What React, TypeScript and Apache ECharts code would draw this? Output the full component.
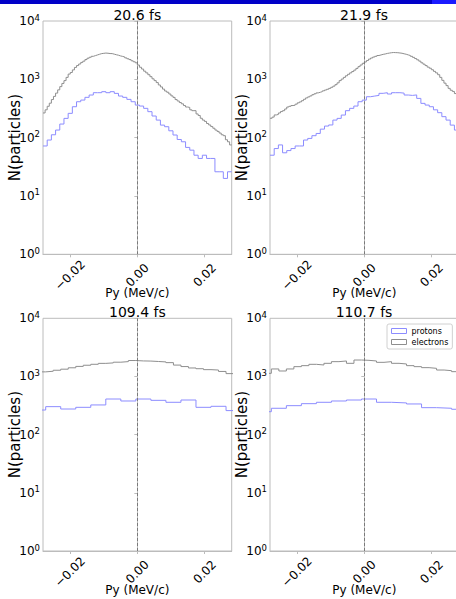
import React, { useEffect, useRef } from 'react';
import * as echarts from 'echarts';

// ---------- data ----------
const TITLES = ['20.6 fs', '21.9 fs', '109.4 fs', '110.7 fs'];
const X_TICKS = [-0.02, 0, 0.02];
const X_MIN = -0.028;
const X_MAX = 0.028;
const Y_MIN = 1;
const Y_MAX = 10000;
const X_NAME = 'Py (MeV/c)';
const Y_NAME = 'N(particles)';
const SERIES_NAMES = ['protons', 'electrons'];

// bin starts / widths (Py, MeV/c)
const P_START = [-0.028, -0.028, -0.03166, -0.03206];
const P_WIDTH = [0.056 / 45, 0.056 / 45, 0.00446, 0.00446];
const E_START = [-0.028, -0.028, -0.02943, -0.02983];
const E_WIDTH = [0.056 / 90, 0.056 / 90, 0.00223, 0.00223];

const PROTONS_1 = [72, 91, 112, 135, 171, 214, 261, 339, 413, 441, 491, 538, 590, 590, 614, 590, 614, 574, 517, 491, 453, 413, 362, 348, 318, 279, 235, 200, 164, 154, 131, 111, 93, 85, 68, 61, 50, 44, 50, 44, 44, 26, 26, 20, 26];
const ELECTRONS_1 = [265, 300, 345, 390, 450, 510, 580, 660, 750, 850, 950, 1080, 1230, 1310, 1450, 1600, 1720, 1830, 1950, 2050, 2180, 2300, 2390, 2480, 2550, 2620, 2690, 2760, 2790, 2820, 2800, 2770, 2760, 2700, 2640, 2590, 2520, 2470, 2420, 2330, 2250, 2180, 2080, 2000, 1920, 1760, 1610, 1500, 1380, 1290, 1200, 1110, 1020, 950, 880, 800, 740, 680, 630, 600, 560, 520, 490, 450, 425, 400, 380, 355, 335, 330, 300, 290, 290, 255, 240, 215, 200, 190, 175, 165, 155, 145, 135, 128, 120, 112, 108, 92, 85, 75];
const PROTONS_2 = [50, 65, 75, 55, 60, 65, 72, 72, 91, 97, 108, 118, 140, 158, 165, 200, 214, 244, 290, 318, 348, 413, 440, 503, 517, 530, 575, 590, 560, 590, 590, 580, 538, 530, 540, 471, 387, 362, 339, 300, 268, 229, 200, 164, 135];
const ELECTRONS_2 = [215, 225, 245, 250, 265, 280, 290, 310, 335, 345, 355, 360, 375, 395, 410, 430, 455, 480, 500, 520, 545, 565, 585, 600, 615, 635, 655, 675, 700, 730, 765, 810, 870, 950, 1010, 1080, 1150, 1220, 1290, 1360, 1440, 1540, 1650, 1760, 1880, 1980, 2100, 2220, 2320, 2410, 2480, 2560, 2620, 2680, 2720, 2780, 2820, 2860, 2880, 2870, 2860, 2830, 2800, 2740, 2690, 2620, 2560, 2480, 2380, 2270, 2160, 2050, 1920, 1820, 1720, 1620, 1550, 1460, 1370, 1290, 1200, 1080, 960, 860, 780, 700, 650, 620, 570, 540];
const PROTONS_3 = [265, 303, 276, 295, 324, 410, 379, 410, 389, 360, 394, 295, 307, 259];
const ELECTRONS_3 = [1200, 1230, 1280, 1335, 1410, 1490, 1560, 1620, 1680, 1710, 1760, 1800, 1880, 1850, 1840, 1810, 1780, 1730, 1570, 1480, 1400, 1360, 1310, 1290, 1220, 1120, 1080];
const PROTONS_4 = [248, 284, 315, 341, 360, 379, 394, 410, 360, 351, 337, 291, 284, 273];
const ELECTRONS_4 = [1133, 1346, 1242, 1346, 1475, 1535, 1618, 1575, 1683, 1798, 1847, 1683, 1918, 1894, 1847, 1750, 1798, 1683, 1640, 1535, 1475, 1418, 1380, 1291, 1258, 1210, 1180];

const PROTONS = [PROTONS_1, PROTONS_2, PROTONS_3, PROTONS_4];
const ELECTRONS = [ELECTRONS_1, ELECTRONS_2, ELECTRONS_3, ELECTRONS_4];

// ---------- styles ----------
const FONT = 'DejaVu Sans';
const FRAME = '#bcbcbc';
const P_COLOR = '#8c8cff';
const E_COLOR = '#8e8e8e';
const GRIDS = [
  { left: 43, top: 21, width: 188.7, height: 233.3 },
  { left: 270, top: 21, width: 188.6, height: 233.3 },
  { left: 43, top: 318.3, width: 188.7, height: 232.7 },
  { left: 270, top: 318.3, width: 188.6, height: 232.7 },
];

function steps(start: number, width: number, counts: number[]) {
  const pts: number[][] = [];
  counts.forEach((c, i) => {
    pts.push([start + i * width, c]);
    pts.push([start + (i + 1) * width, c]);
  });
  return pts;
}

function fmtX(v: number) {
  const s = Math.abs(v).toFixed(2);
  return v < -1e-12 ? '\u2212' + s : s;
}

export default function App() {
  const ref = useRef<HTMLDivElement>(null);
  useEffect(() => {
    if (!ref.current) return;
    const chart = echarts.init(ref.current, undefined, { renderer: 'svg' });
    const grid = GRIDS.map((g) => ({
      ...g,
      show: true,
      borderColor: FRAME,
      borderWidth: 1,
      backgroundColor: 'transparent',
      containLabel: false,
    }));
    const xAxis = GRIDS.map((_, i) => ({
      type: 'value',
      gridIndex: i,
      min: X_MIN,
      max: X_MAX,
      axisLine: { show: true, onZero: false, lineStyle: { color: FRAME } },
      axisTick: { show: true, customValues: X_TICKS, length: 3, lineStyle: { color: FRAME } },
      axisLabel: {
        customValues: X_TICKS,
        rotate: 45,
        align: 'center',
        verticalAlign: 'middle',
        margin: 21,
        fontSize: 12,
        fontFamily: FONT,
        color: '#000',
        formatter: fmtX,
      },
      splitLine: { show: false },
      name: X_NAME,
      nameLocation: 'middle',
      nameGap: 33,
      nameMoveOverlap: false,
      nameTextStyle: { fontSize: 12, fontFamily: FONT, color: '#000', lineHeight: 12 },
    }));
    const yAxis = GRIDS.map((_, i) => ({
      type: 'log',
      logBase: 10,
      gridIndex: i,
      min: Y_MIN,
      max: Y_MAX,
      splitNumber: 4,
      axisLine: { show: true, lineStyle: { color: FRAME } },
      axisTick: { show: true, length: 3, lineStyle: { color: FRAME } },
      axisLabel: {
        margin: 3,
        color: '#000',
        fontFamily: FONT,
        formatter: (v: number) => `{b|10}{s|${Math.round(Math.log10(v))}}`,
        rich: {
          b: { fontSize: 12, fontFamily: FONT, color: '#000' },
          s: { fontSize: 8.5, fontFamily: FONT, color: '#000', padding: [0, 0, 7, 0] },
        },
      },
      splitLine: { show: false },
      name: Y_NAME,
      nameLocation: 'middle',
      nameRotate: 90,
      nameGap: 21,
      nameMoveOverlap: false,
      nameTextStyle: { fontSize: 15, fontFamily: FONT, color: '#000' },
    }));
    const series: any[] = [];
    GRIDS.forEach((_, i) => {
      series.push({
        type: 'line',
        name: SERIES_NAMES[0],
        xAxisIndex: i,
        yAxisIndex: i,
        data: steps(P_START[i], P_WIDTH[i], PROTONS[i]),
        showSymbol: false,
        symbol: 'none',
        clip: true,
        color: P_COLOR,
        lineStyle: { color: P_COLOR, width: 1 },
        z: 3,
      });
      series.push({
        type: 'line',
        name: SERIES_NAMES[1],
        xAxisIndex: i,
        yAxisIndex: i,
        data: steps(E_START[i], E_WIDTH[i], ELECTRONS[i]),
        showSymbol: false,
        symbol: 'none',
        clip: true,
        color: E_COLOR,
        lineStyle: { color: E_COLOR, width: 1 },
        z: 3,
        markLine: {
          silent: true,
          symbol: ['none', 'none'],
          label: { show: false },
          lineStyle: { color: '#7a7a7a', type: [3, 2], width: 1 },
          data: [{ xAxis: 0 }],
        },
      });
    });
    const titleGraphics = GRIDS.map((g, i) => ({
      type: 'text',
      x: g.left + g.width / 2 + (i % 2 === 1 ? -0.3 : 0),
      y: g.top - 6,
      style: {
        text: TITLES[i],
        align: 'center',
        verticalAlign: 'middle',
        fontSize: 14,
        fontFamily: FONT,
        fill: '#000',
      },
    }));
    const option: any = {
      animation: false,
      backgroundColor: '#fff',
      grid,
      xAxis,
      yAxis,
      series,
      legend: {
        show: true,
        orient: 'vertical',
        left: 387,
        top: 324,
        itemWidth: 15,
        itemHeight: 5,
        itemGap: 3,
        padding: [3, 4, 3, 4],
        borderColor: '#d0d0d0',
        borderWidth: 1,
        borderRadius: 2,
        backgroundColor: '#fff',
        textStyle: { fontSize: 8, fontFamily: FONT, color: '#000' },
        selectedMode: false,
        data: [
          { name: SERIES_NAMES[0], icon: 'rect', itemStyle: { color: '#fff', borderColor: P_COLOR, borderWidth: 1 } },
          { name: SERIES_NAMES[1], icon: 'rect', itemStyle: { color: '#fff', borderColor: E_COLOR, borderWidth: 1 } },
        ],
      },
      graphic: [
        ...titleGraphics,
        { type: 'rect', shape: { x: 0, y: 0, width: 432, height: 4 }, style: { fill: '#0000c8' } },
        { type: 'rect', shape: { x: 432, y: 0, width: 40, height: 4 }, style: { fill: '#1a1aff' } },
      ],
    };
    chart.setOption(option);
    return () => chart.dispose();
  }, []);
  return (
    <div style={{ position: 'fixed', left: 0, top: 0, width: 456, height: 599, overflow: 'hidden', background: '#fff' }}>
      <div ref={ref} style={{ width: 470, height: 599 }} />
    </div>
  );
}
